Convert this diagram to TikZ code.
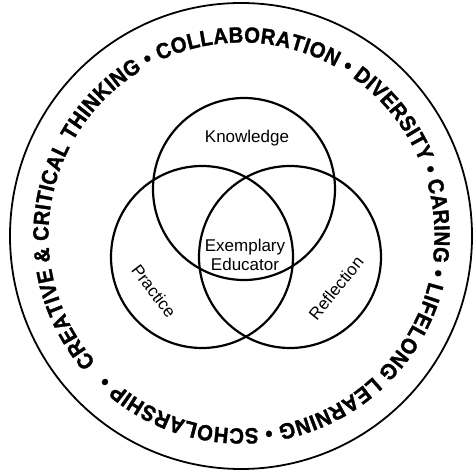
\documentclass[tikz,border=0pt]{standalone}
\usepackage{fontspec}
\setmainfont{Liberation Sans}
\newfontfamily\ringfont{Liberation Sans}[UprightFont={* Bold}, FakeBold=1.5, FakeStretch=0.92]
\usetikzlibrary{decorations.text}
\begin{document}
\begin{tikzpicture}[x=1pt,y=1pt,
  venn/.style={draw=black, line width=2.2pt},
  lbl/.style={font=\fontsize{17}{19}\selectfont, align=center, inner sep=0pt}]
\useasboundingbox (0,0) rectangle (476,471);
\coordinate (ctr) at (241.5,235.5);
\draw[line width=1.8pt] (241,235) ellipse [x radius=231, y radius=233];
\path[decorate, decoration={text along path,
  text format delimiters={|}{|},
  text={|\fontsize{22}{22}\ringfont|CREATIVE {\&} CRITICAL THINKING • COLLABORATION • DIVERSITY • CARING • LIFELONG LEARNING • SCHOLARSHIP •},
  text align={fit to path}}]
  (ctr) ++(221:193) arc[start angle=221, end angle=-134, radius=193];
\node[venn, circle, minimum size=182pt] (know) at (244,282) {};
\node[venn, circle, minimum size=182pt] (prac) at (202,214) {};
\node[venn, circle, minimum size=182pt] (refl) at (290,214) {};
\node[lbl] (tk) at (247,333) {Knowledge};
\node[lbl] (te) at (245,216) {Exemplary\\Educator};
\node[lbl, rotate=-53] (tp) at (154,180) {Practice};
\node[lbl, rotate=51] (tr) at (336,183) {Reflection};
\end{tikzpicture}
\end{document}
